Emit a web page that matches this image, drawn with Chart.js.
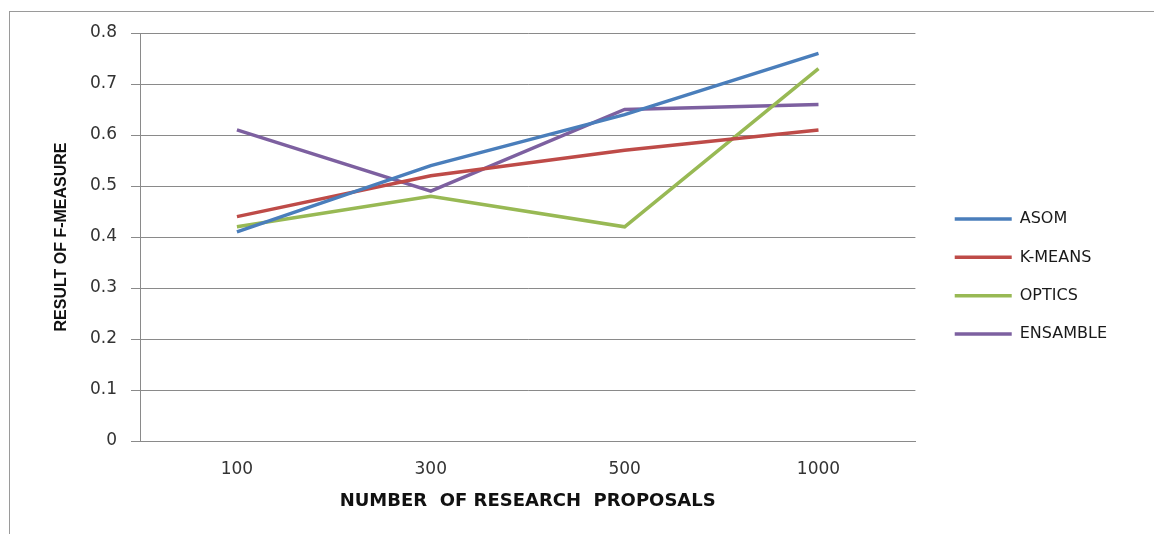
<!DOCTYPE html>
<html>
<head>
<meta charset="utf-8">
<script src="https://cdn.jsdelivr.net/npm/chart.js@4"></script>
<style>
  html, body { margin: 0; padding: 0; background: #fff; overflow: hidden; }
  #wrap { position: absolute; left: 0; top: 0; width: 1154px; height: 534px; }
  #frame { position: absolute; left: 9px; top: 11px; width: 1200px; height: 600px;
           border-left: 1px solid #9a9a9a; border-top: 1px solid #9a9a9a; pointer-events: none; }
</style>
</head>
<body>
<div id="wrap"><canvas id="c" width="1154" height="534"></canvas></div>
<div id="frame"></div>
<script>
const categories = ["100", "300", "500", "1000"];
const seriesNames = ["ASOM", "K-MEANS", "OPTICS", "ENSAMBLE"];
const asom     = [0.41, 0.54, 0.64, 0.76];
const kmeans   = [0.44, 0.52, 0.57, 0.61];
const optics   = [0.42, 0.48, 0.42, 0.73];
const ensamble = [0.61, 0.49, 0.65, 0.66];
const seriesColors = ["#4A7EBB", "#BE4B48", "#98B954", "#7D60A0"];
const yTitle = "RESULT OF F-MEASURE";
const xTitle = "NUMBER  OF RESEARCH  PROPOSALS";

const allSeries = [asom, kmeans, optics, ensamble];
const datasets = allSeries.map((vals, i) => ({
  label: seriesNames[i],
  data: vals,
  borderColor: seriesColors[i],
  backgroundColor: seriesColors[i],
  borderWidth: 3.5,
  pointRadius: 0,
  pointHoverRadius: 0,
  tension: 0,
  fill: false
}));

const gridGray = "#8a8a8a";

new Chart(document.getElementById("c"), {
  type: "line",
  data: { labels: categories, datasets },
  options: {
    responsive: false,
    animation: false,
    devicePixelRatio: 1,
    layout: { padding: { left: 0, right: 37, top: 33, bottom: 14 } },
    plugins: {
      tooltip: { enabled: false },
      legend: {
        position: "right",
        align: "center",
        labels: {
          usePointStyle: true,
          pointStyle: "line",
          pointStyleWidth: 57,
          boxHeight: 16,
          padding: 22.3,
          color: "#1a1a1a",
          font: { family: "DejaVu Sans", size: 16 }
        }
      }
    },
    scales: {
      x: {
        type: "category",
        offset: true,
        grid: { display: false },
        border: { display: true, color: gridGray, width: 1 },
        ticks: { color: "#333", padding: 10, font: { family: "DejaVu Sans", size: 17 }, maxRotation: 0 },
        title: { display: true, text: xTitle, color: "#111",
                 padding: { top: 8, bottom: 8 },
                 font: { family: "DejaVu Sans", size: 18, weight: "bold" } },
        afterFit: (s) => { s.height = 79; }
      },
      y: {
        min: 0, max: 0.8,
        ticks: { stepSize: 0.1, color: "#333", padding: 14,
                 font: { family: "DejaVu Sans", size: 17 },
                 callback: (v) => String(+v.toFixed(1)) },
        grid: { color: gridGray, lineWidth: 1, drawTicks: true, tickLength: 9, tickColor: gridGray },
        border: { display: true, color: gridGray, width: 1 },
        title: { display: true, text: yTitle, color: "#111",
                 padding: { top: 52, bottom: 52 },
                 font: { family: "Liberation Sans", size: 16, weight: "bold" } },
        afterFit: (s) => { s.width = 140; }
      },
      gap: {
        position: "right",
        display: true,
        grid: { display: false },
        border: { display: false },
        ticks: { display: false },
        afterFit: (s) => { s.width = 17; }
      }
    }
  }
});
</script>
</body>
</html>
